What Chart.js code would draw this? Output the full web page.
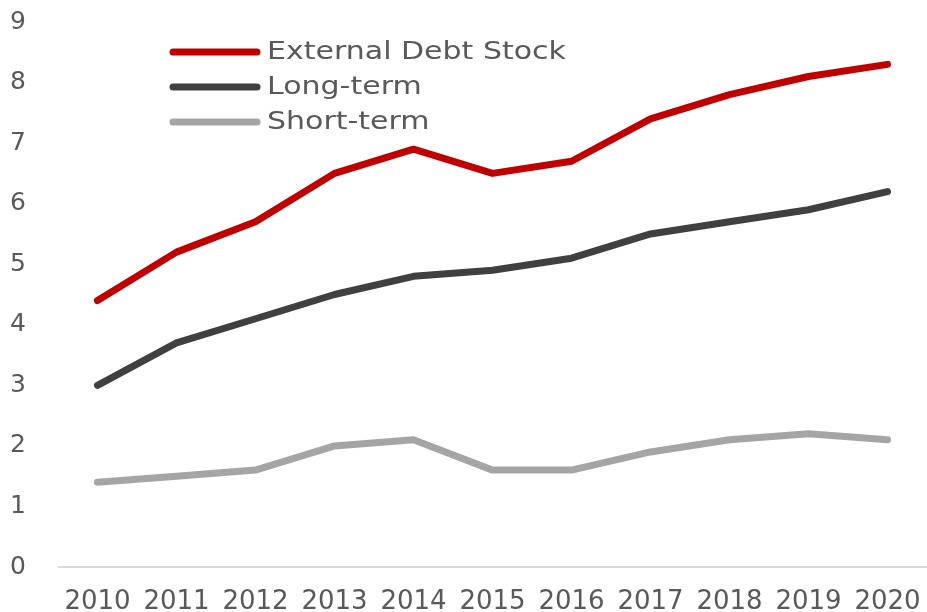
<!DOCTYPE html>
<html>
<head>
<meta charset="utf-8">
<script src="https://cdn.jsdelivr.net/npm/chart.js@4"></script>
<style>
  html,body{margin:0;padding:0;background:#fff;}
  #wrap{width:927px;height:612px;position:relative;}
</style>
</head>
<body>
<div id="wrap"><canvas id="debtChart"></canvas></div>
<script>
// Data
const years = ['2010','2011','2012','2013','2014','2015','2016','2017','2018','2019','2020'];
const externalDebt = [4.4, 5.2, 5.7, 6.5, 6.9, 6.5, 6.7, 7.4, 7.8, 8.1, 8.3];
const longTerm     = [3.0, 3.7, 4.1, 4.5, 4.8, 4.9, 5.1, 5.5, 5.7, 5.9, 6.2];
const shortTerm    = [1.4, 1.5, 1.6, 2.0, 2.1, 1.6, 1.6, 1.9, 2.1, 2.2, 2.1];
const seriesNames  = ['External Debt Stock', 'Long-term', 'Short-term'];
const seriesColors = ['#C00000', '#404040', '#A5A5A5'];

const FONT = 'DejaVu Sans';
const TXT = '#595959';

// legend drawn inside the plot, top-left, like the original (text a bit wide, as in the source image)
const innerLegend = {
  id: 'innerLegend',
  afterDraw(chart){
    const ctx = chart.ctx;
    chart.data.datasets.forEach((ds, i) => {
      const y = 52 + i*35;
      ctx.save();
      ctx.strokeStyle = ds.borderColor;
      ctx.lineWidth = 7;
      ctx.lineCap = 'round';
      ctx.beginPath(); ctx.moveTo(173, y); ctx.lineTo(257, y); ctx.stroke();
      ctx.fillStyle = TXT;
      ctx.font = `25px "${FONT}"`;
      ctx.textBaseline = 'middle';
      ctx.translate(267, y);
      ctx.scale(1.2, 1);
      ctx.fillText(ds.label, 0, 0);
      ctx.restore();
    });
  }
};

function line(label, data, color){
  return {label, data, borderColor:color, backgroundColor:color, borderWidth:7,
    pointRadius:0, pointHoverRadius:0, tension:0, borderCapStyle:'round', borderJoinStyle:'round', fill:false};
}

new Chart(document.getElementById('debtChart').getContext('2d'), {
  type:'line',
  data:{
    labels: years,
    datasets:[
      line(seriesNames[0], externalDebt, seriesColors[0]),
      line(seriesNames[1], longTerm, seriesColors[1]),
      line(seriesNames[2], shortTerm, seriesColors[2]),
    ]
  },
  options:{
    responsive:true, maintainAspectRatio:false, animation:false,
    layout:{padding:{top:22, right:0, left:0, bottom:0}},
    plugins:{legend:{display:false}, tooltip:{enabled:false}},
    scales:{
      x:{
        offset:true,
        grid:{display:false},
        border:{display:false},
        ticks:{color:TXT, font:{family:FONT, size:26}, padding:12, maxRotation:0, autoSkip:false},
        afterFit(s){ s.height = 45; s.paddingLeft = 0; s.paddingRight = 0; }
      },
      y:{
        min:0, max:9,
        grid:{drawTicks:false, color:c => c.tick.value === 0 ? '#D9D9D9' : 'transparent', lineWidth:2},
        border:{display:false},
        ticks:{stepSize:1, color:TXT, font:{family:FONT, size:25}, padding:32},
        afterFit(s){ s.width = 58; s.paddingTop = 0; s.paddingBottom = 0; }
      }
    }
  },
  plugins:[innerLegend]
});
</script>
</body>
</html>
